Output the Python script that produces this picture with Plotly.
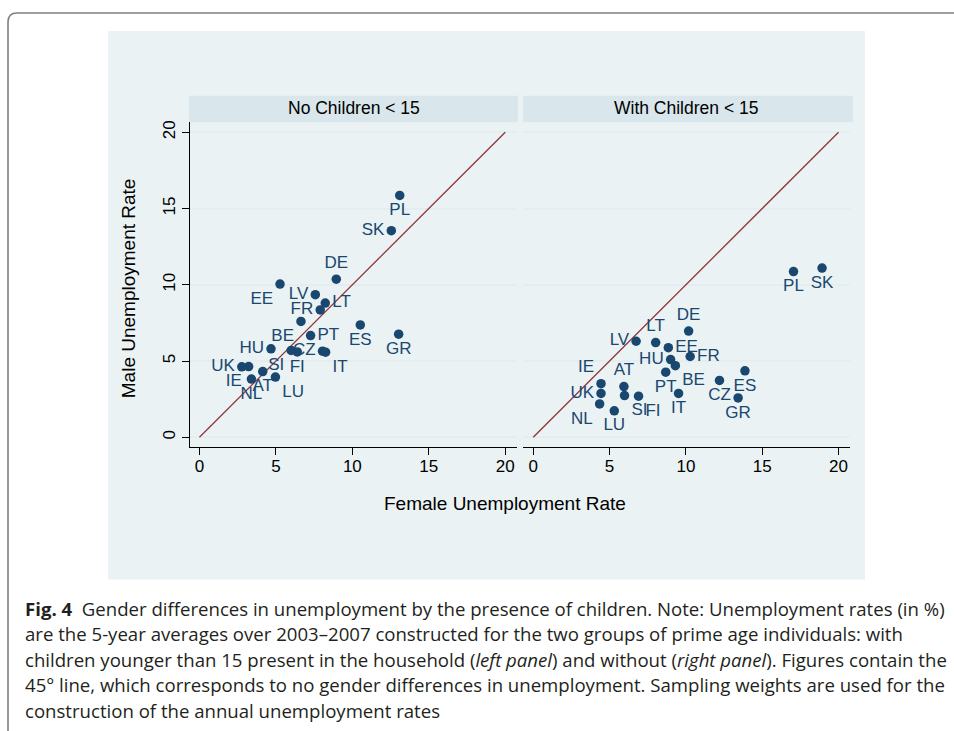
import plotly.graph_objects as go

W, H = 954, 731

# ---------------- data ----------------
countries_no = ["PL", "SK", "DE", "EE", "LV", "LT", "FR", "BE", "ES", "PT", "GR",
                "HU", "SI", "FI", "CZ", "IT", "UK", "IE", "AT", "NL", "LU"]
female_no = [13.1, 12.55, 8.95, 5.27, 7.58, 8.23, 7.9, 6.64, 10.52, 7.27, 13.03,
             4.68, 6.0, 6.4, 8.05, 8.25, 2.77, 3.22, 4.14, 3.4, 4.97]
male_no = [15.86, 13.55, 10.37, 10.05, 9.35, 8.8, 8.35, 7.6, 7.37, 6.67, 6.76,
           5.8, 5.7, 5.6, 5.65, 5.58, 4.62, 4.64, 4.31, 3.82, 3.95]

countries_with = ["PL", "SK", "DE", "LV", "LT", "EE", "FR", "HU", "BE", "PT", "ES",
                  "CZ", "GR", "IT", "IE", "UK", "NL", "AT", "SI", "FI", "LU"]
female_with = [17.05, 18.92, 10.18, 6.74, 8.02, 8.85, 10.28, 9.0, 9.31, 8.68, 13.87,
               12.2, 13.42, 9.52, 4.44, 4.44, 4.35, 5.94, 5.98, 6.9, 5.31]
male_with = [10.87, 11.1, 6.97, 6.3, 6.21, 5.88, 5.3, 5.1, 4.7, 4.27, 4.36,
             3.73, 2.58, 2.88, 3.52, 2.88, 2.19, 3.33, 2.74, 2.7, 1.74]

diag = [0, 20]
tick_vals = [0, 5, 10, 15, 20]
panel_titles = ["No Children < 15", "With Children < 15"]
x_title = "Female Unemployment Rate"
y_title = "Male Unemployment Rate"
caption_lines = [
    "<b>Fig. 4</b>  Gender differences in unemployment by the presence of children. Note: Unemployment rates (in %)",
    "are the 5-year averages over 2003\u20132007 constructed for the two groups of prime age individuals: with",
    "children younger than 15 present in the household (<i>left panel</i>) and without (<i>right panel</i>). Figures contain the",
    "45\u00b0 line, which corresponds to no gender differences in unemployment. Sampling weights are used for the",
    "construction of the annual unemployment rates",
]

# ---------------- label placement (style) ----------------
pos_no = {"PL": "bottom center", "SK": "middle left", "DE": "top center", "EE": "bottom left",
          "LV": "middle left", "LT": "middle right", "FR": "middle left", "BE": "bottom left",
          "ES": "bottom center", "PT": "middle right", "GR": "bottom center", "HU": "middle left",
          "SI": "bottom left", "FI": "bottom center", "CZ": "middle left", "IT": "bottom right",
          "UK": "middle left", "IE": "bottom left", "AT": "bottom center", "NL": "bottom center",
          "LU": "bottom right"}
pos_with = {"PL": "bottom center", "SK": "bottom center", "DE": "top center", "LV": "middle left",
            "LT": "top center", "EE": "middle right", "FR": "middle right", "HU": "middle left",
            "BE": "bottom right", "PT": "bottom center", "ES": "bottom center", "CZ": "bottom center",
            "GR": "bottom center", "IT": "bottom center", "IE": "top left", "UK": "middle left",
            "NL": "bottom left", "AT": "top center", "SI": "bottom right", "FI": "bottom right",
            "LU": "bottom center"}

NAVY = "#1a476f"
MAROON = "#90353b"
BG = "#eaf2f3"
STRIP = "#d9e6eb"
GRID = "#e4eef0"
FONT = "Liberation Sans, Arial, sans-serif"


def px(x):
    return x / W


def py(y):
    return 1 - y / H


fig = go.Figure()

for i, (cs, fx, my, pos) in enumerate([(countries_no, female_no, male_no, pos_no),
                                        (countries_with, female_with, male_with, pos_with)]):
    xa = "x" if i == 0 else "x2"
    ya = "y" if i == 0 else "y2"
    fig.add_trace(go.Scatter(x=diag, y=diag, mode="lines", xaxis=xa, yaxis=ya,
                             line=dict(color=MAROON, width=1.3), hoverinfo="skip",
                             showlegend=False))
    fig.add_trace(go.Scatter(x=fx, y=my, mode="markers+text", text=cs,
                             textposition=[pos[c] for c in cs], xaxis=xa, yaxis=ya,
                             marker=dict(color=NAVY, size=9.5),
                             textfont=dict(color=NAVY, size=17, family=FONT),
                             showlegend=False))

xr = [-0.65, 20.75]
yr = [-0.62, 20.65]
ydom = [py(446), py(120.7)]

common_x = dict(range=xr, showgrid=False, zeroline=False, showline=True, linecolor="black",
                linewidth=1, ticks="outside", ticklen=7, tickcolor="black", tickwidth=1,
                tickvals=tick_vals, tickfont=dict(family=FONT, size=17, color="black"),
                ticklabelstandoff=-3, fixedrange=True)
fig.update_layout(
    width=W, height=H, margin=dict(l=0, r=0, t=0, b=0),
    paper_bgcolor="white", plot_bgcolor="white",
    xaxis=dict(domain=[px(189.5), px(516.7)], anchor="y", **common_x),
    xaxis2=dict(domain=[px(523.3), px(850)], anchor="y2", **common_x),
    yaxis=dict(domain=ydom, range=yr, anchor="x", showgrid=True, gridcolor=GRID, gridwidth=2,
               zeroline=False, showline=True, linecolor="black", linewidth=1,
               ticks="outside", ticklen=7, tickcolor="black", tickvals=tick_vals,
               tickangle=-90, tickfont=dict(family=FONT, size=17, color="black"),
               fixedrange=True),
    yaxis2=dict(domain=ydom, range=yr, anchor="x2", showgrid=True, gridcolor=GRID, gridwidth=2,
                zeroline=False, showline=False, showticklabels=False, ticks="",
                tickvals=tick_vals, fixedrange=True),
)

shapes = [
    dict(type="rect", xref="paper", yref="paper", x0=px(108), x1=px(865), y0=py(579), y1=py(29),
         fillcolor=BG, line=dict(width=0), layer="below"),
    dict(type="rect", xref="paper", yref="paper", x0=px(189), x1=px(518), y0=py(120.7), y1=py(94),
         fillcolor=STRIP, line=dict(width=0), layer="below"),
    dict(type="rect", xref="paper", yref="paper", x0=px(523), x1=px(853), y0=py(120.7), y1=py(94),
         fillcolor=STRIP, line=dict(width=0), layer="below"),
    dict(type="path", xref="paper", yref="paper",
         path=f"M {px(8)},{py(731)} L {px(8)},{py(20)} Q {px(8)},{py(11)} {px(17)},{py(11)} L {px(954)},{py(11)}",
         line=dict(color="#808080", width=1.6)),
]
fig.update_layout(shapes=shapes)

ann = []
ann.append(dict(text=panel_titles[0], x=px(353.5), y=py(106.5), xref="paper", yref="paper",
                xanchor="center", yanchor="middle",
                showarrow=False, font=dict(family=FONT, size=17.5, color="black")))
ann.append(dict(text=panel_titles[1], x=px(686), y=py(106.5), xref="paper", yref="paper",
                xanchor="center", yanchor="middle",
                showarrow=False, font=dict(family=FONT, size=17.5, color="black")))
ann.append(dict(text=x_title, x=px(505), y=py(503), xref="paper", yref="paper",
                xanchor="center", yanchor="middle",
                showarrow=False, font=dict(family=FONT, size=19, color="black")))
ann.append(dict(text=y_title, x=px(128), y=py(287), xref="paper", yref="paper", textangle=-90,
                xanchor="center", yanchor="middle",
                showarrow=False, font=dict(family=FONT, size=19, color="black")))
for k, line in enumerate(caption_lines):
    ann.append(dict(text=line, x=px(23), y=py(608 + k * 25.6), xref="paper", yref="paper",
                    xanchor="left", yanchor="middle", showarrow=False,
                    font=dict(family="Open Sans, sans-serif", size=18.6, color="#231f20")))
fig.update_layout(annotations=ann)

fig.write_html("out.html", config={"displayModeBar": False},
               post_script="document.body.style.margin='0';document.body.style.overflow='hidden';")
